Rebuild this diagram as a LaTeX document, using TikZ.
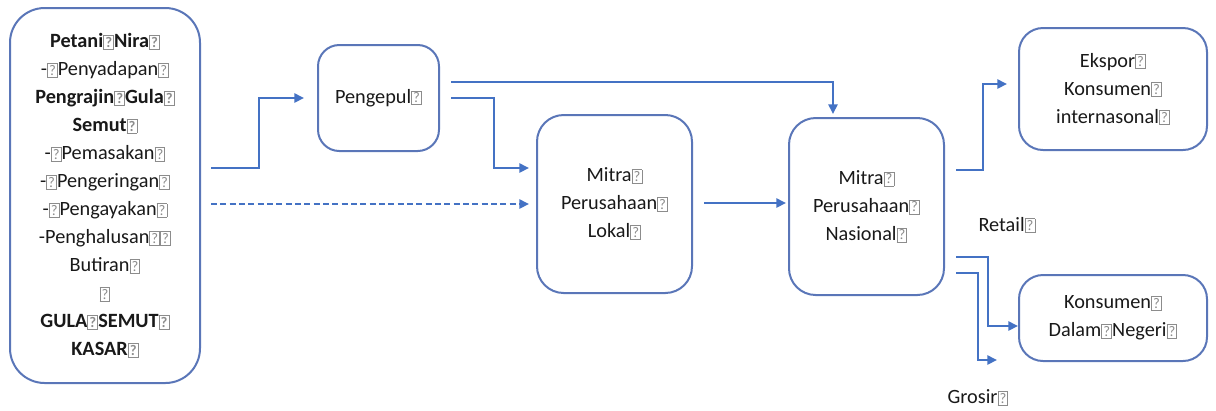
\documentclass[tikz,border=0pt]{standalone}
\usepackage{fontspec}
\setmainfont{Carlito}
\usepackage{tikz}
\usetikzlibrary{arrows.meta}
\usetikzlibrary{calc}
\definecolor{officeblue}{HTML}{4472C4}
\definecolor{boxline}{HTML}{5A76B8}
\newcommand{\px}{0.375pt}
\newcommand{\tofu}{{\color{gray!90}\fboxsep=0.4pt\fboxrule=0.35pt\fbox{\fontsize{5.5}{5.5}\selectfont\raisebox{0.2pt}{?}}}}
\tikzset{
  stage/.style={draw=boxline, line width=0.75pt, align=center, text=black!90,
    font=\fontsize{7.6}{10.5}\selectfont, inner sep=0pt},
  flow/.style={officeblue, line width=0.8pt, -{Triangle[length=3.6pt,width=3.4pt]}},
  lbl/.style={text=black!90, font=\fontsize{7.6}{10.5}\selectfont, inner sep=0pt}
}

\begin{document}
\begin{tikzpicture}[x=0.375pt, y=-0.375pt]
\useasboundingbox (0,0) rectangle (1216,410);
% boxes
\node[stage, rounded corners=13pt, minimum width={190*\px}, minimum height={375*\px}] (petani) at (105,195.5)
 {\textbf{Petani\tofu Nira\tofu}\\
  -\tofu Penyadapan\tofu\\
  \textbf{Pengrajin\tofu Gula\tofu}\\
  \textbf{Semut\tofu}\\
  -\tofu Pemasakan\tofu\\
  -\tofu Pengeringan\tofu\\
  -\tofu Pengayakan\tofu\\
  -Penghalusan\tofu\tofu\\
  Butiran\tofu\\
  \tofu\\
  \textbf{GULA\tofu SEMUT\tofu}\\
  \textbf{KASAR\tofu}};
\node[stage, rounded corners=8pt, minimum width={121*\px}, minimum height={106*\px}] (pengepul) at (378.5,98) {Pengepul\tofu};
\node[stage, rounded corners=10pt, minimum width={155*\px}, minimum height={178*\px}] (lokal) at (614.5,204)
 {Mitra\tofu\\ Perusahaan\tofu\\ Lokal\tofu};
\node[stage, rounded corners=10pt, minimum width={155*\px}, minimum height={177*\px}] (nasional) at (866.5,206.5)
 {Mitra\tofu\\ Perusahaan\tofu\\ Nasional\tofu};
\node[stage, rounded corners=9pt, minimum width={188*\px}, minimum height={122*\px}] (ekspor) at (1113,89)
 {Ekspor\tofu\\ Konsumen\tofu\\ internasonal\tofu};
\node[stage, rounded corners=9pt, minimum width={188*\px}, minimum height={86*\px}] (dalam) at (1113,318)
 {Konsumen\tofu\\ Dalam\tofu Negeri\tofu};
% labels
\node[lbl] (retail) at (1007,225) {Retail\tofu};
\node[lbl] (grosir) at (978,398) {Grosir\tofu};
\coordinate (grosirend) at ($(dalam.west)+(-21,42)$);
% flows
\draw[flow] ($(petani.east)+(10,-27.5)$) -- ++(48,0) |- ($(pengepul.west)+(-13,0)$);
\draw[flow, dash pattern=on 2.2pt off 1.3pt] ($(petani.east)+(10,8.5)$) -- ($(lokal.west)+(-7,0)$);
\draw[flow] ($(pengepul.east)+(11,0)$) -- ++(43,0) |- ($(lokal.west)+(-7,-36)$);
\draw[flow] ($(pengepul.east)+(11,-16)$) -| ($(nasional.north)+(-33.5,-3)$);
\draw[flow] ($(lokal.east)+(11,-1)$) -- ($(nasional.west)+(-2,-3.5)$);
\draw[flow] ($(nasional.east)+(11,-36.5)$) -- ++(27,0) |- ($(ekspor.west)+(-11,-5)$);
\draw[flow] ($(nasional.east)+(11,50.5)$) -- ++(32,0) |- ($(dalam.west)+(0,8)$);
\draw[flow] ($(nasional.east)+(11,66.5)$) -- ++(22,0) |- (grosirend);
\end{tikzpicture}
\end{document}
